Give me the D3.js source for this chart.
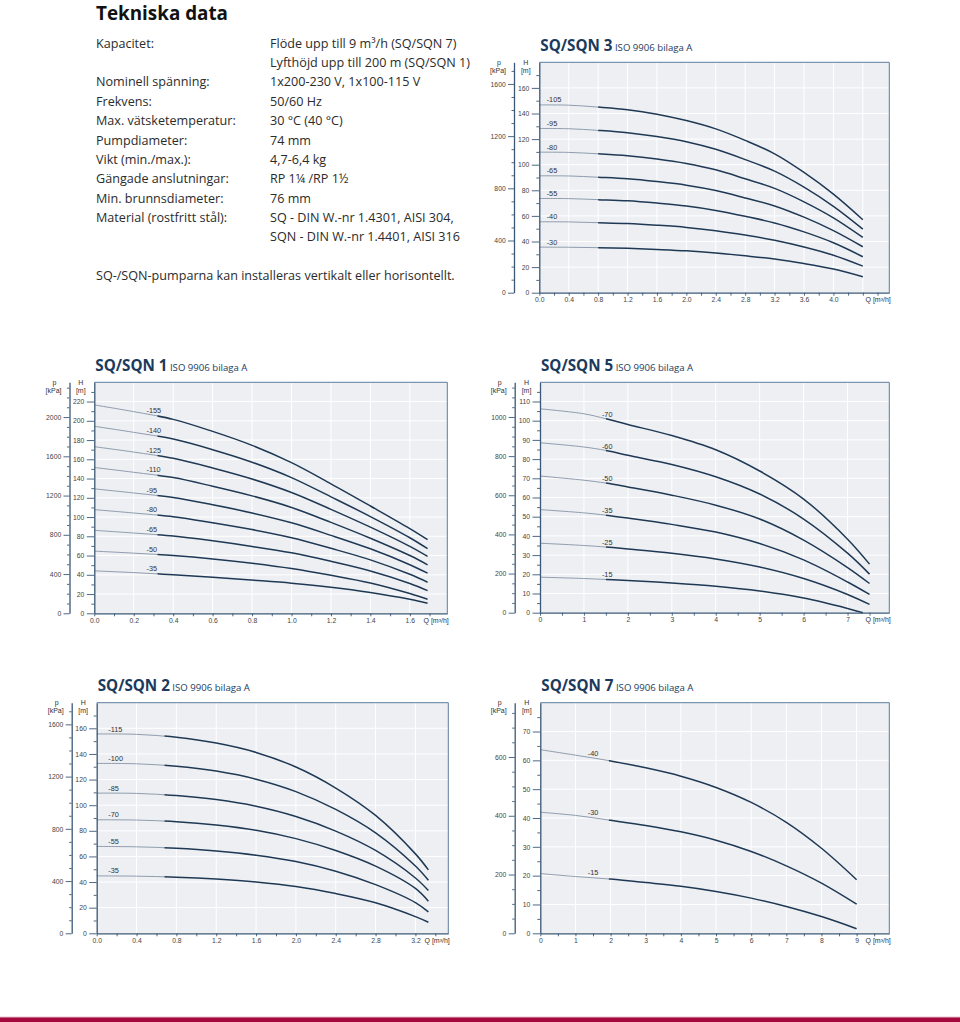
<!DOCTYPE html>
<html><head><meta charset="utf-8">
<script src="https://cdn.jsdelivr.net/npm/d3@7"></script>
<style>body{margin:0;background:#fff} svg{display:block}</style>
</head><body>
<script>
// ---------- text block ----------
const specLabels = ["Kapacitet:", "", "Nominell spänning:", "Frekvens:", "Max. vätsketemperatur:", "Pumpdiameter:", "Vikt (min./max.):", "Gängade anslutningar:", "Min. brunnsdiameter:", "Material (rostfritt stål):", ""];
const specValues = ["Flöde upp till 9 m³/h (SQ/SQN 7)", "Lyfthöjd upp till 200 m (SQ/SQN 1)", "1x200-230 V, 1x100-115 V", "50/60 Hz", "30 °C (40 °C)", "74 mm", "4,7-6,4 kg", "RP 1¼ /RP 1½", "76 mm", "SQ - DIN W.-nr 1.4301, AISI 304,", "SQN - DIN W.-nr 1.4401, AISI 316"];
const footNote = "SQ-/SQN-pumparna kan installeras vertikalt eller horisontellt.";

// ---------- SQ/SQN 3 ----------
const sq3Names = ["-105", "-95", "-80", "-65", "-55", "-40", "-30"];
const sq3Q = [0, 0.4, 0.8, 1.2, 1.6, 2.0, 2.4, 2.8, 3.2, 3.6, 4.0, 4.4];
const sq3H = [
  [146.7, 146.5, 145, 143, 139.5, 134.5, 128, 119, 108.5, 94, 77, 57],
  [128.3, 128.1, 126.8, 125, 122, 118, 112, 104, 95, 82.5, 67.5, 49.7],
  [109.8, 109.6, 108.5, 107, 104.5, 101, 96, 89, 81.5, 71, 58.5, 43.2],
  [91.3, 91.2, 90.2, 89, 86.8, 84, 79.8, 74, 67.8, 59, 48.5, 35.9],
  [73.6, 73.5, 72.7, 71.8, 70, 67.7, 64.3, 59.7, 54.5, 47.5, 39, 28.1],
  [55.4, 55.3, 54.7, 54, 52.7, 51, 48.4, 45, 41, 35.7, 29.3, 20.8],
  [35.6, 35.5, 35.2, 34.7, 33.8, 32.7, 31, 28.8, 26.3, 22.8, 18.5, 12.5]
];

// ---------- SQ/SQN 1 ----------
const sq1Names = ["-155", "-140", "-125", "-110", "-95", "-80", "-65", "-50", "-35"];
const sq1Q = [0, 0.2, 0.4, 0.6, 0.8, 1.0, 1.2, 1.4, 1.6, 1.69];
const sq1H = [
  [216.5, 209.5, 201.5, 189, 174.5, 156.5, 134.5, 111.5, 88, 76.5],
  [194.3, 188, 181, 170, 157, 141, 121, 100.5, 78.5, 67.1],
  [173.1, 167.5, 161, 151, 139.5, 125.5, 108, 89.5, 69.5, 59.1],
  [151.5, 146.5, 141, 132, 122, 110, 94.5, 78, 60, 50.4],
  [129.3, 125, 120.3, 112.8, 104.2, 94, 81, 67, 50.5, 41.7],
  [107.7, 104.2, 100.3, 94, 87, 78.5, 67.5, 55.5, 40.5, 32.3],
  [86.2, 83.4, 80.3, 75.3, 69.5, 62.8, 54, 44, 31, 23.6],
  [64.6, 62.5, 60, 56.5, 52, 46.5, 39.5, 31.5, 20.5, 14.6],
  [44.1, 42.3, 40, 37.5, 34.5, 31.3, 27.1, 21.6, 14.5, 10.4]
];

// ---------- SQ/SQN 5 ----------
const sq5Names = ["-70", "-60", "-50", "-35", "-25", "-15"];
const sq5Q = [0, 1, 1.5, 2, 3, 4, 5, 6, 7, 7.5];
const sq5QLow = [0, 1, 1.5, 2, 3, 4, 5, 6, 7, 7.35];
const sq5H = [
  [106.2, 103.6, 101, 98, 92.3, 84.9, 73.8, 59.2, 38.3, 25.3],
  [88.5, 86.3, 84.5, 82, 77.2, 70.8, 61.8, 48.8, 31, 20.1],
  [71.2, 69, 67.5, 65.5, 61.2, 56, 48.8, 37.8, 23.5, 15.2],
  [53.7, 52, 50.8, 49.3, 46, 42, 36, 27.5, 16, 9.5],
  [36.2, 35, 34.2, 33.2, 31, 28, 23.8, 17.8, 9.5, 4.3],
  [18.5, 17.8, 17.3, 16.8, 15.5, 13.8, 11.3, 7.6, 2.2, 0]
];

// ---------- SQ/SQN 2 ----------
const sq2Names = ["-115", "-100", "-85", "-70", "-55", "-35"];
const sq2Q = [0, 0.4, 0.8, 1.2, 1.6, 2.0, 2.4, 2.8, 3.2, 3.33];
const sq2H = [
  [155.6, 155.3, 153, 148.5, 141.2, 129.8, 113.4, 92, 62, 49.5],
  [132.6, 132.3, 130.4, 126.6, 120.3, 110.6, 96.7, 78.4, 52.5, 41.4],
  [109.4, 109.2, 107.5, 104.4, 99.2, 91.2, 79.8, 64.7, 43.2, 33.4],
  [88.6, 88.4, 87.1, 84.5, 80.4, 73.9, 64.6, 52.4, 35, 25],
  [67.8, 67.5, 66.4, 64.3, 61, 56, 48.5, 38, 24, 16.7],
  [44.8, 44.6, 43.8, 42.3, 40, 36.5, 31, 23.8, 13, 8.6]
];

// ---------- SQ/SQN 7 ----------
const sq7Names = ["-40", "-30", "-15"];
const sq7Q = [0, 1, 2, 3, 4, 5, 6, 7, 8, 9];
const sq7H = [
  [63.7, 61.8, 59.8, 57.4, 54.5, 50.6, 45.4, 38.5, 29.5, 18.6],
  [42.0, 40.9, 39.2, 37.4, 35.2, 32.3, 28.4, 23.4, 17.4, 10.1],
  [20.7, 19.7, 18.8, 17.6, 16.3, 14.5, 12.2, 9.3, 5.8, 1.6]
];

// ---------- drawing ----------
const W = 960, H = 1022;
const svg = d3.select("body").append("svg").attr("width", W).attr("height", H);
const SANS = "'Open Sans', 'Noto Sans', sans-serif";
const ARIAL = "'Liberation Sans', Arial, sans-serif";
const AX = "#3b5876";
const KPA_PER_M = 9.81;

// header
svg.append("text").attr("x", 96).attr("y", 19.5).text("Tekniska data")
  .attr("font-family", SANS).attr("font-weight", 700).attr("font-size", 19.5)
  .attr("fill", "#111").attr("textLength", 132).attr("lengthAdjust", "spacingAndGlyphs");
specLabels.forEach((t, i) => {
  const yy = 47.7 + i * 19.37;
  if (t) svg.append("text").attr("x", 96).attr("y", yy).text(t)
    .attr("font-family", SANS).attr("font-size", 12.6).attr("fill", "#2b2b2b");
  svg.append("text").attr("x", 270).attr("y", yy).text(specValues[i])
    .attr("font-family", SANS).attr("font-size", 12.6).attr("fill", "#2b2b2b");
});
svg.append("text").attr("x", 96).attr("y", 279.5).text(footNote)
  .attr("font-family", SANS).attr("font-size", 12.6).attr("fill", "#2b2b2b");

// footer bar
svg.append("rect").attr("x", 0).attr("y", 1016.6).attr("width", W).attr("height", 0.8).attr("fill", "#e2b9c4");
svg.append("rect").attr("x", 0).attr("y", 1017.4).attr("width", W).attr("height", 4.6).attr("fill", "#a6093d");

function steps(step, max) {
  const n = Math.floor(max / step + 1e-6);
  return d3.range(0, n + 1).map(i => +(i * step).toFixed(4));
}

let clipId = 0;
function drawChart(c) {
  const g = svg.append("g");
  const x = d3.scaleLinear().domain([0, c.qMax]).range([c.left, c.right]);
  const y = d3.scaleLinear().domain([0, c.hMax]).range([c.bottom, c.top]);
  const yp = d3.scaleLinear().domain([0, c.hMax * KPA_PER_M]).range([c.bottom, c.top]);

  // title
  const t = g.append("text").attr("x", c.left + 1).attr("y", c.top - 11.6).attr("fill", "#1b3a5c");
  t.append("tspan").text(c.title).attr("font-family", SANS).attr("font-weight", 700).attr("font-size", 15.2);
  t.append("tspan").text(" ISO 9906 bilaga A").attr("font-family", SANS).attr("font-size", 9.6);

  // background
  g.append("rect").attr("x", c.left).attr("y", c.top).attr("width", c.right - c.left)
    .attr("height", c.bottom - c.top).attr("fill", "#edeff3");

  // grid
  const xMajor = steps(c.xLabelStep, c.qMax);
  const hMajor = steps(c.hStep, c.hMax);
  g.append("g").selectAll("line").data(xMajor.filter(d => d > 0)).join("line")
    .attr("x1", d => x(d)).attr("x2", d => x(d)).attr("y1", c.top).attr("y2", c.bottom)
    .attr("stroke", "#fff").attr("stroke-width", 1);
  g.append("g").selectAll("line").data(hMajor.filter(d => d > 0 && d < c.hMax)).join("line")
    .attr("x1", c.left).attr("x2", c.right).attr("y1", d => y(d)).attr("y2", d => y(d))
    .attr("stroke", "#fff").attr("stroke-width", 1);

  // frame top & right
  g.append("path").attr("d", `M${c.left},${c.top}H${c.right}V${c.bottom}`)
    .attr("fill", "none").attr("stroke", "#5d7e9f").attr("stroke-width", 1);

  // curves
  const xs = x(c.split);
  const id1 = "clipA" + (clipId), id2 = "clipB" + (clipId++);
  const defs = g.append("defs");
  defs.append("clipPath").attr("id", id1).append("rect")
    .attr("x", c.left - 2).attr("y", c.top - 5).attr("width", xs - c.left + 2).attr("height", c.bottom - c.top + 10);
  defs.append("clipPath").attr("id", id2).append("rect")
    .attr("x", xs).attr("y", c.top - 5).attr("width", c.right - xs + 5).attr("height", c.bottom - c.top + 10);

  const line = d3.line().x(d => x(d[0])).y(d => y(d[1])).curve(d3.curveCatmullRom.alpha(0.5));
  c.names.forEach((name, i) => {
    const qs = c.qs[i];
    const pts = qs.map((q, j) => [q, c.h[i][j]]);
    g.append("path").attr("d", line(pts)).attr("fill", "none")
      .attr("stroke", "#8593a6").attr("stroke-width", 0.9).attr("clip-path", `url(#${id1})`);
    g.append("path").attr("d", line(pts)).attr("fill", "none")
      .attr("stroke", "#1f3954").attr("stroke-width", 1.5).attr("clip-path", `url(#${id2})`);
    // label
    const ql = c.labelQ;
    const hl = d3.scaleLinear().domain(qs).range(c.h[i])(ql + (7 / (x(1) - x(0))));
    g.append("text").attr("x", x(ql)).attr("y", y(hl) - 2.6).text(name)
      .attr("font-family", ARIAL).attr("font-size", 7.3).attr("fill", "#333");
  });

  // H axis
  const hMinor = steps(c.hStep / 2, c.hMax - 1e-6).filter(d => !hMajor.includes(d));
  const hLab = hMajor.filter(d => d <= c.hLabelMax);
  g.append("g").attr("transform", `translate(${c.left},0)`)
    .call(d3.axisLeft(y).tickValues(hLab).tickSize(7.5).tickPadding(2.5).tickSizeOuter(0).tickFormat(d3.format("d")));
  g.append("g").attr("transform", `translate(${c.left},0)`)
    .call(d3.axisLeft(y).tickValues(hMinor).tickSize(3).tickFormat("")).select(".domain").remove();
  // p axis
  const pMax = c.hMax * KPA_PER_M;
  const pMajor = steps(c.pStep, pMax).filter(d => d <= c.pLabelMax);
  const pMinor = steps(c.pStep / 4, pMax).filter(d => !pMajor.includes(d));
  g.append("g").attr("transform", `translate(${c.pAxisX},0)`)
    .call(d3.axisLeft(yp).tickValues(pMajor).tickSize(6).tickPadding(2.3).tickSizeOuter(0).tickFormat(d3.format("d")));
  g.append("g").attr("transform", `translate(${c.pAxisX},0)`)
    .call(d3.axisLeft(yp).tickValues(pMinor).tickSize(2.5).tickFormat("")).select(".domain").remove();
  // x axis
  const xTicks = steps(c.xTickStep, c.qMax);
  const fmt = c.xFmt;
  const isLab = d => Math.abs(d / c.xLabelStep - Math.round(d / c.xLabelStep)) < 1e-6 && d <= c.xLabelMax;
  g.append("g").attr("transform", `translate(0,${c.bottom})`)
    .call(d3.axisBottom(x).tickValues(xTicks).tickSize(3).tickPadding(1.8).tickSizeOuter(0)
      .tickFormat(d => isLab(d) ? d3.format(fmt)(d) : ""));

  g.selectAll(".domain").attr("stroke", AX).attr("stroke-width", 1.3);
  g.selectAll(".tick line").attr("stroke", AX).attr("stroke-width", 0.9);
  g.selectAll(".tick text").attr("font-family", ARIAL).attr("font-size", 6.8).attr("fill", "#444");

  // axis titles
  const lab = (xx, yy, txt) => g.append("text").attr("x", xx).attr("y", yy).text(txt)
    .attr("text-anchor", "middle").attr("font-family", ARIAL).attr("font-size", 7).attr("fill", "#333");
  lab(c.pAxisX - 15, c.top + 2.3, "p");
  lab(c.pAxisX - 16, c.top + 10.3, "[kPa]");
  lab(c.left - 13.5, c.top + 2.3, "H");
  lab(c.left - 13.5, c.top + 10.3, "[m]");
  g.append("text").attr("x", c.right + 1.5).attr("y", c.bottom + 9.3).text("Q [m³/h]")
    .attr("text-anchor", "end").attr("font-family", ARIAL).attr("font-size", 7).attr("fill", "#333");
}

drawChart({ title: "SQ/SQN 3", names: sq3Names, qs: sq3Names.map(() => sq3Q), h: sq3H,
  left: 539.3, right: 889.3, top: 62.3, bottom: 292.7, pAxisX: 514,
  qMax: 4.76, hMax: 180, hStep: 20, hLabelMax: 160, pStep: 400, pLabelMax: 1600,
  xTickStep: 0.2, xLabelStep: 0.4, xLabelMax: 4.0, xFmt: ".1f", split: 0.8, labelQ: 0.1 });

drawChart({ title: "SQ/SQN 1", names: sq1Names, qs: sq1Names.map(() => sq1Q), h: sq1H,
  left: 94.3, right: 447.3, top: 382.3, bottom: 613.3, pAxisX: 69.5,
  qMax: 1.79, hMax: 240, hStep: 20, hLabelMax: 220, pStep: 400, pLabelMax: 2000,
  xTickStep: 0.1, xLabelStep: 0.2, xLabelMax: 1.6, xFmt: ".1f", split: 0.32, labelQ: 0.265 });

drawChart({ title: "SQ/SQN 5", names: sq5Names, qs: sq5Names.map((n, i) => i === 5 ? sq5QLow : sq5Q), h: sq5H,
  left: 540, right: 889.3, top: 382.3, bottom: 612.7, pAxisX: 514.7,
  qMax: 7.95, hMax: 120, hStep: 10, hLabelMax: 110, pStep: 200, pLabelMax: 1000,
  xTickStep: 0.5, xLabelStep: 1, xLabelMax: 7, xFmt: "d", split: 1.5, labelQ: 1.41 });

drawChart({ title: "SQ/SQN 2", names: sq2Names, qs: sq2Names.map(() => sq2Q), h: sq2H,
  left: 96.7, right: 448.3, top: 702.7, bottom: 933.3, pAxisX: 71.7,
  qMax: 3.53, hMax: 180, hStep: 20, hLabelMax: 160, pStep: 400, pLabelMax: 1600,
  xTickStep: 0.2, xLabelStep: 0.4, xLabelMax: 3.2, xFmt: ".1f", split: 0.68, labelQ: 0.117 });

drawChart({ title: "SQ/SQN 7", names: sq7Names, qs: sq7Names.map(() => sq7Q), h: sq7H,
  left: 540.3, right: 889.3, top: 702.7, bottom: 933.3, pAxisX: 514.7,
  qMax: 9.93, hMax: 80, hStep: 10, hLabelMax: 70, pStep: 200, pLabelMax: 600,
  xTickStep: 0.5, xLabelStep: 1, xLabelMax: 9, xFmt: "d", split: 1.95, labelQ: 1.35 });
</script>
</body></html>
